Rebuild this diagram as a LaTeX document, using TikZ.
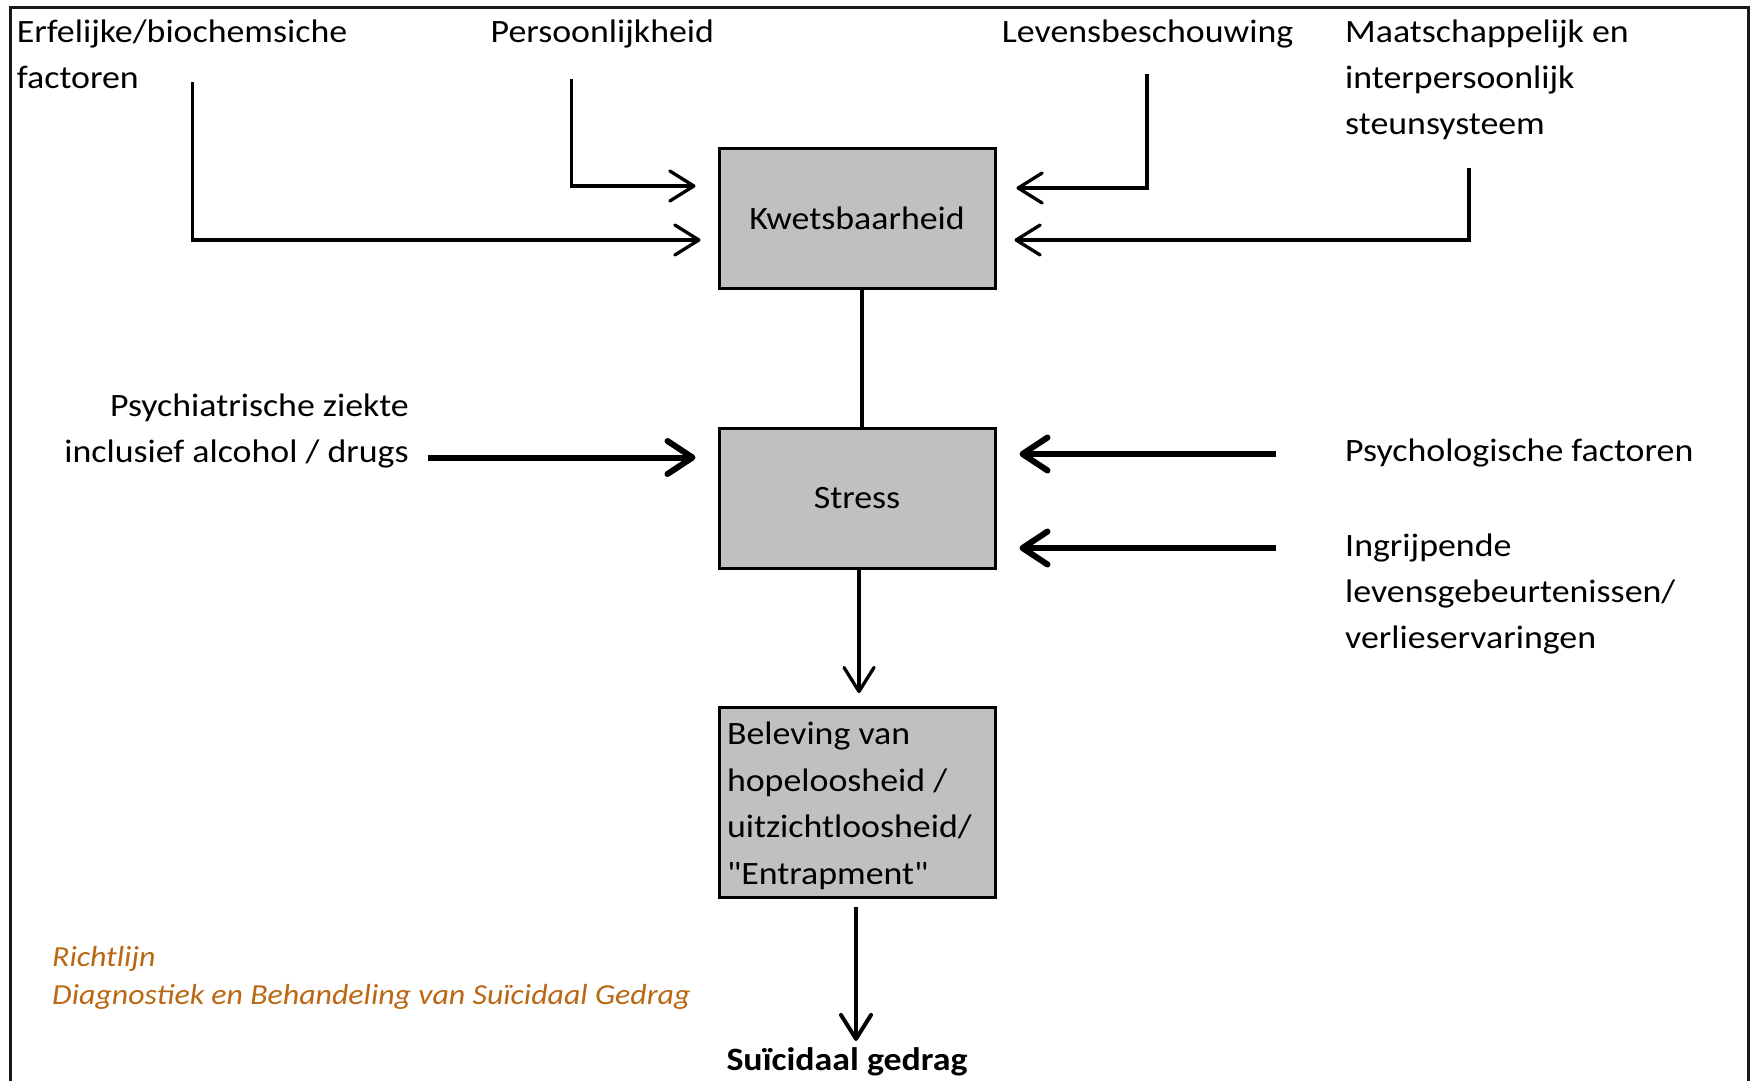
\documentclass[tikz,border=0pt]{standalone}
\usepackage{fontspec}
\setmainfont{Carlito}[FakeStretch=1.1]
\newfontfamily\plainfont{Carlito}[FakeStretch=1.1]
\usetikzlibrary{arrows.meta,calc}
\definecolor{orng}{RGB}{187,104,20}
\definecolor{boxgray}{RGB}{192,192,192}
\definecolor{framecol}{RGB}{25,25,25}
\newcommand{\lbl}[2]{\begin{tabular}[t]{@{}#1@{}}#2\end{tabular}}
\newcommand{\sq}{{\plainfont"}}
\begin{document}
\begin{tikzpicture}[x=1pt,y=-1pt,
  every node/.style={inner sep=0pt, font=\fontsize{32.6}{46}\selectfont},
  box/.style={draw=black, line width=3pt, fill=boxgray, minimum width=276pt, inner sep=8pt},
  plainline/.style={line width=3.3pt},
  thinarrow/.style={line width=3.3pt, -{Straight Barb[length=24pt,width=30pt,round]}},
  heavyarrow/.style={line width=6pt, -{Straight Barb[length=25pt,width=33pt,round]}},
  note/.style={font=\fontsize{29}{38}\selectfont\itshape, text=orng}
]
\useasboundingbox (0,0) rectangle (1752,1080);
\fill[white] (0,0) rectangle (1752,1080);
\draw[framecol, line width=3pt] (10,1100) -- (10,7) -- (1748,7) -- (1748,1100);

% labels
\node[anchor=base west] (erf) at (16.7,42.7) {\lbl{l}{Erfelijke/biochemsiche\\factoren}};
\node[anchor=base west] (per) at (490.5,42.7) {Persoonlijkheid};
\node[anchor=base west] (lev) at (1001.7,42.7) {Levensbeschouwing};
\node[anchor=base west] (maa) at (1345,42.7) {\lbl{l}{Maatschappelijk en\\interpersoonlijk\\steunsysteem}};
\node[anchor=base east] (psi) at (409,416.7) {\lbl{r}{Psychiatrische ziekte\\inclusief alcohol / drugs}};
\node[anchor=base west] (psl) at (1345,461.7) {Psychologische factoren};
\node[anchor=base west] (ing) at (1345,556.5) {\lbl{l}{Ingrijpende\\levensgebeurtenissen/\\verlieservaringen}};
\node[anchor=base west, note] (ref) at (52,966.7) {\lbl{l}{Richtlijn\\Diagnostiek en Behandeling van Suïcidaal Gedrag}};

% boxes
\node[box, minimum height=140pt] (kw) at (857,218) {Kwetsbaarheid};
\node[box, minimum height=140pt] (st) at (857,498) {Stress};
\node[box, minimum height=189pt, text width=260pt, align=flush left,
      font=\fontsize{32.6}{46.5}\selectfont] (bel) at (857,802.5)
  {\rule{0pt}{29pt}Beleving van\\hopeloosheid /\\uitzichtloosheid/\\\sq Entrapment\sq};
\node[anchor=base, font=\fontsize{32.6}{46}\selectfont\bfseries] (sg) at (847,1070) {Suïcidaal gedrag};

% connector start points
\coordinate (erfS) at (192.7,81.7);
\coordinate (perS) at (571.5,79);
\coordinate (levS) at (1147,74);
\coordinate (maaS) at (1469,168);
\coordinate (psiS) at (428,457.5);
\coordinate (pslS) at (1276,454);
\coordinate (ingS) at (1276,548);

% connectors
\draw[thinarrow] (erfS) |- ([shift={(-17,22)}]kw.west);
\draw[thinarrow] (perS) |- ([shift={(-22,-32)}]kw.west);
\draw[thinarrow] (levS) |- ([shift={(20,-30)}]kw.east);
\draw[thinarrow] (maaS) |- ([shift={(18,22)}]kw.east);
\draw[plainline] ([xshift=5pt]kw.south) -- ([xshift=5pt]st.north);
\draw[heavyarrow] (psiS) -- ([shift={(-22,-40.5)}]st.west);
\draw[heavyarrow] (pslS) -- ([shift={(23,-44)}]st.east);
\draw[heavyarrow] (ingS) -- ([shift={(23,50)}]st.east);
\draw[thinarrow] ([xshift=2pt]st.south) -- ([shift={(2,-13)}]bel.north);
\draw[thinarrow, line width=4pt] ([shift={(-1,8)}]bel.south) -- ($(sg.north -| bel.south)+(-1,-6)$);
\end{tikzpicture}
\end{document}
